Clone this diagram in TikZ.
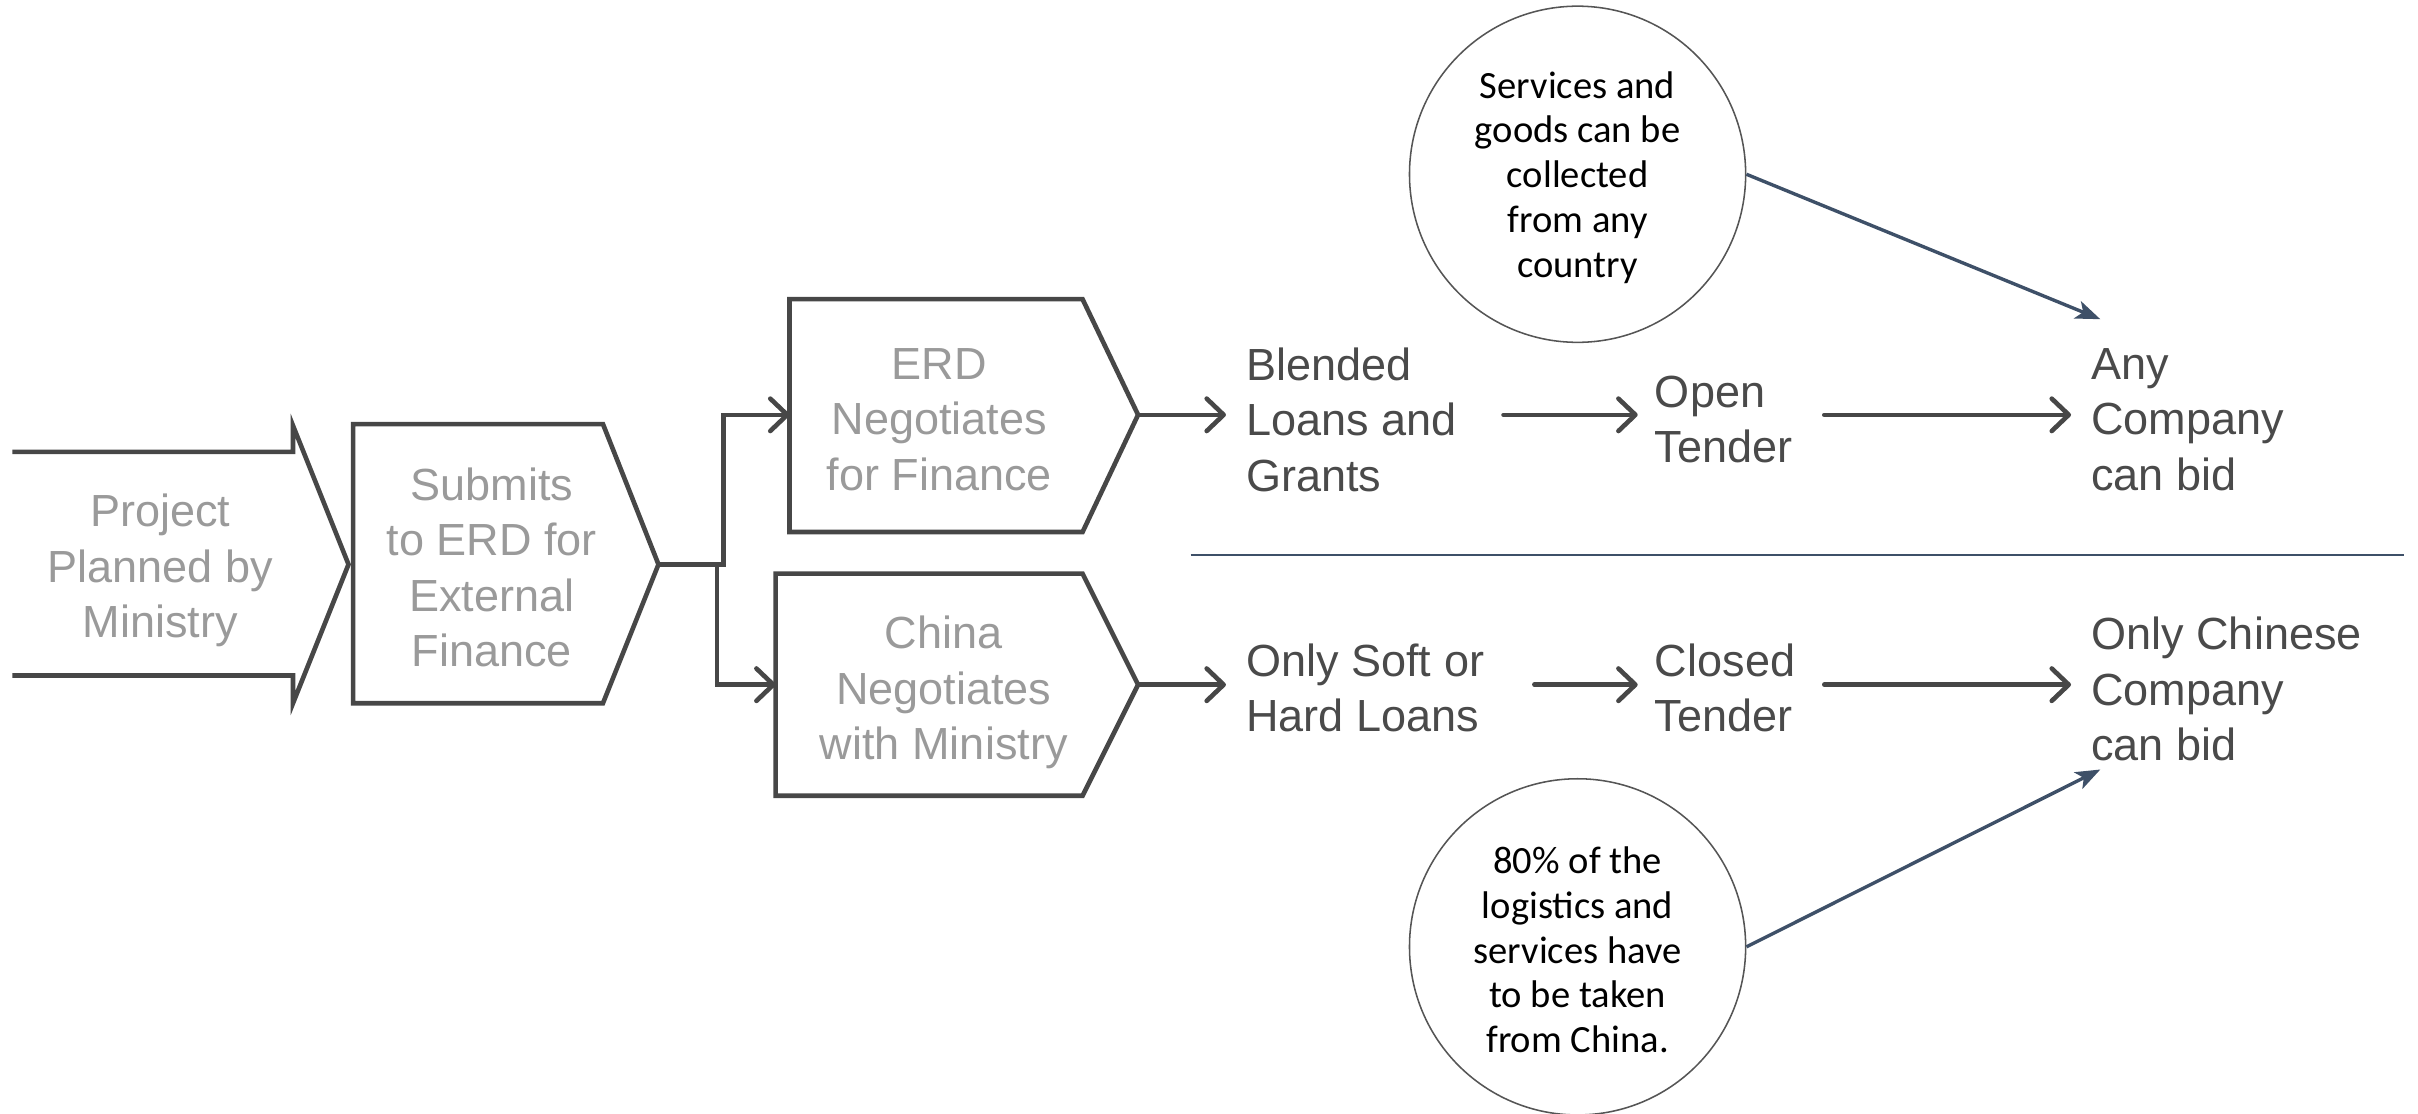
\documentclass[tikz,border=0pt]{standalone}
\usepackage{fontspec}
\setmainfont{Liberation Sans}
\newfontfamily\notefont{Carlito}
\usetikzlibrary{arrows.meta}
\definecolor{stroke}{HTML}{474747}
\definecolor{boxtext}{HTML}{9A9A9A}
\definecolor{maintext}{HTML}{4A4A4A}
\definecolor{slate}{HTML}{3E5068}
\definecolor{circ}{HTML}{555555}
\tikzset{
  mainfont/.style={font=\fontsize{29.2}{36}\selectfont},
  boxlabel/.style={mainfont, text=boxtext, align=center, inner sep=0pt},
  steplabel/.style={mainfont, text=maintext, align=left, anchor=west, inner sep=0pt},
  shapeline/.style={draw=stroke, line width=3pt, line join=miter},
  flow/.style={draw=stroke, line width=3pt, line cap=round,
    -{Straight Barb[length=11pt, width=21pt, line join=round, line cap=round]}},
  elbow/.style={draw=stroke, line width=3pt,
    -{Straight Barb[length=11pt, width=21pt, line join=round, line cap=round]}},
  notecircle/.style={circle, draw=circ, line width=1pt, minimum size=218pt, inner sep=0pt,
    align=center, font=\notefont\fontsize{25}{29}\selectfont, text=black},
  notearrow/.style={draw=slate, line width=2.2pt, -{Stealth[length=16pt, width=12pt, inset=4pt]}},
}
\begin{document}
\begin{tikzpicture}[x=1pt, y=-1pt]
\useasboundingbox (0,0) rectangle (1568,722);

% Shapes
\draw[shapeline] (8,293) -- (190,293) -- (190,276) -- (226,366) -- (190,456) -- (190,438) -- (8,438);
\node[boxlabel] (project) at (104,370) {Project\\Planned by\\Ministry};
\coordinate (projtip) at (226,366);

\draw[shapeline] (229,275) -- (391,275) -- (427,366) -- (391,456) -- (229,456) -- cycle;
\node[boxlabel] (submit) at (319,368) {Submits\\to ERD for\\External\\Finance};
\coordinate (subtip) at (427,366);

\draw[shapeline] (512,194) -- (702,194) -- (738,269) -- (702,345) -- (512,345) -- cycle;
\node[boxlabel] (erd) at (609,272) {ERD\\Negotiates\\for Finance};
\coordinate (erdin) at (512,269);
\coordinate (erdtip) at (738,269);

\draw[shapeline] (503,372) -- (702,372) -- (738,444) -- (702,516) -- (503,516) -- cycle;
\node[boxlabel] (china) at (612,449) {China\\Negotiates\\with Ministry};
\coordinate (chinain) at (503,444);
\coordinate (chinatip) at (738,444);

% Branch connectors
\draw[elbow] (subtip) -- (469,366) |- (erdin);
\draw[elbow] (subtip) -- (465,366) |- (chinain);

% Step labels
\node[steplabel] (blended) at (808,272) {Blended\\Loans and\\Grants};
\node[steplabel] (soft) at (808,446) {Only Soft or\\Hard Loans};
\node[steplabel] (open) at (1073,272) {Open\\Tender};
\node[steplabel] (closed) at (1073,446) {Closed\\Tender};
\node[steplabel] (anyco) at (1356,272) {Any\\Company\\can bid};
\node[steplabel] (chineseco) at (1356,447) {Only Chinese\\Company\\can bid};

% Flow arrows
\draw[flow] (erdtip) -- (795,269);
\draw[flow] (chinatip) -- (795,444);
\draw[flow] (975,269) -- (1062,269);
\draw[flow] (995,444) -- (1062,444);
\draw[flow] (1183,269) -- (1343,269);
\draw[flow] (1183,444) -- (1343,444);

% Divider
\coordinate (divL) at (772,360);
\coordinate (divR) at (1559,360);
\draw[draw=slate, line width=1.3pt] (divL) -- (divR);

% Notes
\node[notecircle] (note1) at (1023,113) {};
\node[align=center, font=\notefont\fontsize{25}{29}\selectfont, text=black, inner sep=0pt] (note1text) at (1023,115) {Services and\\goods can be\\collected\\from any\\country};
\node[notecircle] (note2) at (1023,614) {};
\node[align=center, font=\notefont\fontsize{25}{29}\selectfont, text=black, inner sep=0pt] (note2text) at (1023,616) {80\% of the\\logistics and\\services have\\to be taken\\from China.};
\coordinate (a1) at (1362,207);
\coordinate (a2) at (1362,499);
\draw[notearrow] (note1.east) -- (a1);
\draw[notearrow] (note2.east) -- (a2);
\end{tikzpicture}
\end{document}
